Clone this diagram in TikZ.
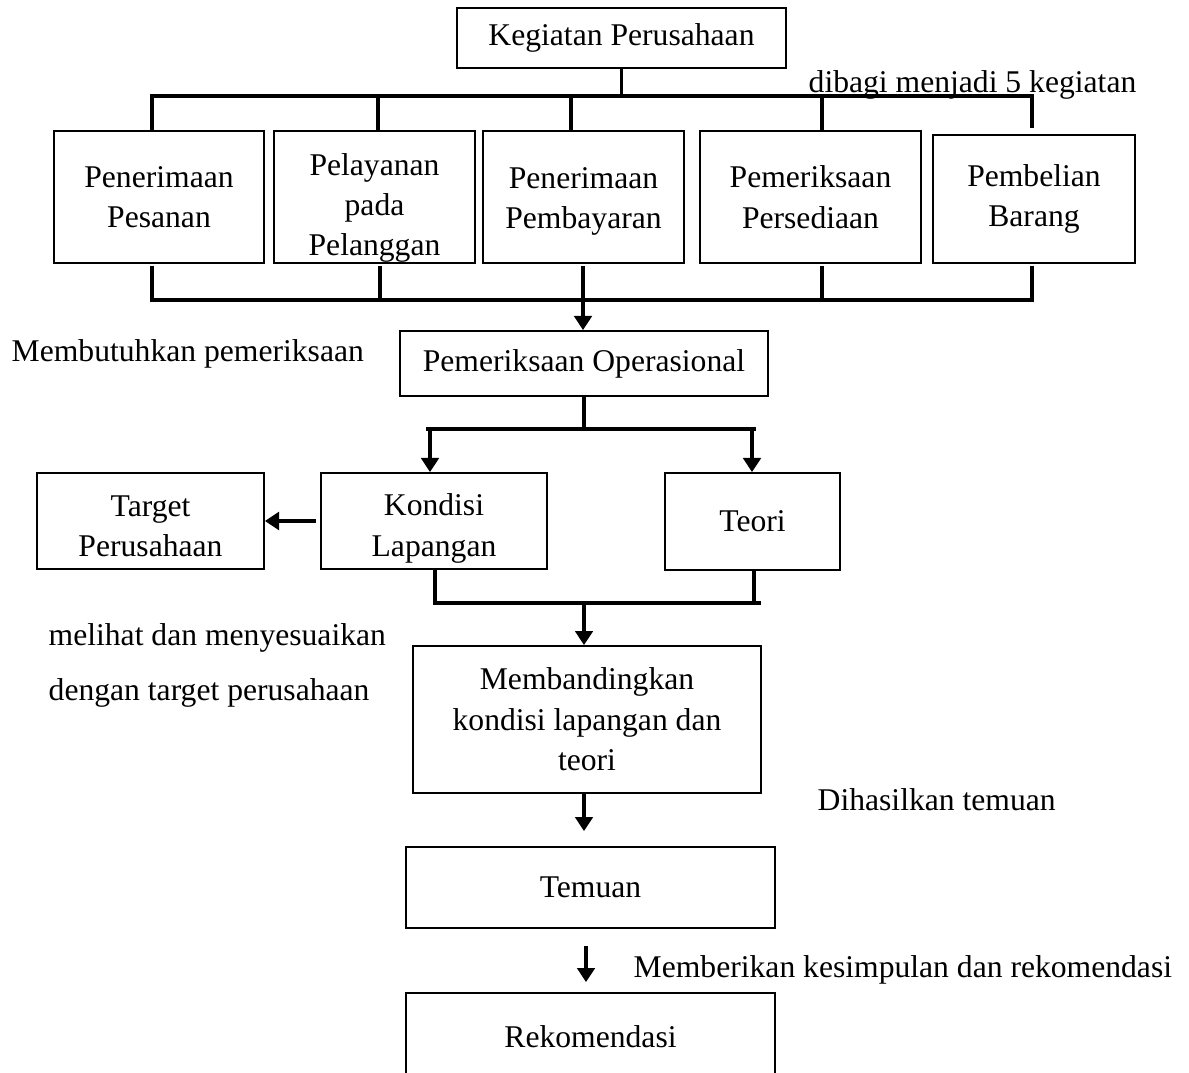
\documentclass[tikz,border=0pt]{standalone}
\usepackage{fontspec}
\setmainfont{Liberation Serif}
\usetikzlibrary{arrows.meta}

\begin{document}
\begin{tikzpicture}[x=0.02cm, y=-0.02cm, thick,
    >={Triangle[width=10pt,length=8pt]},
    main node/.style={rectangle,draw,line width=1.1pt,align=center,inner sep=0pt,font=\fontsize{18}{23}\selectfont},
    text node/.style={anchor=base west,inner sep=0pt,font=\fontsize{18}{23}\selectfont},
    bus/.style={line width=1.9pt,line cap=rect},
    arrow/.style={->,line width=1.8pt}]

    \useasboundingbox (0,0) rectangle (1189,1072);

    \node[main node, minimum width=6.58cm, minimum height=1.2cm] at (621.5, 38) (kp) {Kegiatan Perusahaan};
    \node[main node, minimum width=4.2cm, minimum height=2.64cm] at (159, 197) (b1) {Penerimaan\\Pesanan};
    \node[main node, minimum width=4.02cm, minimum height=2.64cm, text height=71pt] at (374.5, 197) (b2) {Pelayanan\\pada\\Pelanggan};
    \node[main node, minimum width=4.02cm, minimum height=2.64cm, text height=40pt] at (583.5, 197) (b3) {Penerimaan\\Pembayaran};
    \node[main node, minimum width=4.42cm, minimum height=2.64cm] at (810.5, 197) (b4) {Pemeriksaan\\Persediaan};
    \node[main node, minimum width=4.04cm, minimum height=2.56cm] at (1034, 199) (b5) {Pembelian\\Barang};
    \node[main node, minimum width=7.36cm, minimum height=1.3cm] at (584, 363.5) (po) {Pemeriksaan Operasional};
    \node[main node, minimum width=4.52cm, minimum height=1.92cm, text height=44pt] at (434, 521) (kl) {Kondisi\\Lapangan};
    \node[main node, minimum width=3.5cm, minimum height=1.94cm] at (752.5, 521.5) (teori) {Teori};
    \node[main node, minimum width=4.54cm, minimum height=1.92cm, text height=41pt] at (150.5, 521) (target) {Target\\Perusahaan};
    \node[main node, minimum width=6.95cm, minimum height=2.94cm] at (587, 719.5) (mb) {Membandingkan\\kondisi lapangan dan\\teori};
    \node[main node, minimum width=7.38cm, minimum height=1.62cm] at (590.5, 887.5) (temuan) {Temuan};
    \node[main node, minimum width=7.38cm, minimum height=1.74cm] at (590.5, 1036.5) (rek) {Rekomendasi};

    \node[text node] at (808, 92) (bagi) {dibagi menjadi 5 kegiatan};
    \node[text node] at (11, 361) (butuh) {Membutuhkan pemeriksaan};
    \node[text node] at (48, 645) (lihat) {melihat dan menyesuaikan};
    \node[text node] at (48, 700) (target2) {dengan target perusahaan};
    \node[text node] at (817, 810) (hasil) {Dihasilkan temuan};
    \node[text node] at (633, 977) (beri) {Memberikan kesimpulan dan rekomendasi};

    \coordinate (topbus) at (0, 96);
    \coordinate (lowbus) at (0, 300);
    \coordinate (midbus) at (0, 429);
    \coordinate (botbus) at (0, 603);

    % top split
    \draw[bus] (kp.south) -- (kp.south |- topbus);
    \draw[bus] (152,0 |- topbus) -- (1032,0 |- topbus);
    \foreach \x/\b in {152/b1, 378/b2, 571/b3, 822/b4}
        \draw[bus] (\x,0 |- topbus) -- (\x,0 |- \b.north);
    \draw[bus, shorten >=0.16cm] (1032,0 |- topbus) -- (1032,0 |- b5.north);

    % join into pemeriksaan
    \foreach \x/\b in {152/b1, 380/b2, 583/b3, 822/b4, 1032/b5}
        \draw[bus, shorten <=0.08cm] (\x,0 |- \b.south) -- (\x,0 |- lowbus);
    \draw[bus] (152,0 |- lowbus) -- (1032,0 |- lowbus);
    \draw[arrow] (583,0 |- lowbus) -- (583,0 |- po.north);

    \draw[bus] (po.south) -- (po.south |- midbus);
    \draw[bus] (428,0 |- midbus) -- (754,0 |- midbus);
    \draw[arrow] (430,0 |- midbus) -- (430,0 |- kl.north);
    \draw[arrow] (752,0 |- midbus) -- (752,0 |- teori.north);
    \draw[arrow, line width=2.3pt, shorten <=0.08cm] (kl.west) -- (target.east);

    \draw[bus] (435,0 |- kl.south) -- (435,0 |- botbus) -- (759,0 |- botbus);
    \draw[bus] (754,0 |- teori.south) -- (754,0 |- botbus);
    \draw[arrow] (584,0 |- botbus) -- (584,0 |- mb.north);
    \draw[arrow, shorten >=0.3cm] (584,0 |- mb.south) -- (584,0 |- temuan.north);
    \draw[arrow, shorten <=0.34cm, shorten >=0.2cm] (586,0 |- temuan.south) -- (586,0 |- rek.north);
\end{tikzpicture}
\end{document}
